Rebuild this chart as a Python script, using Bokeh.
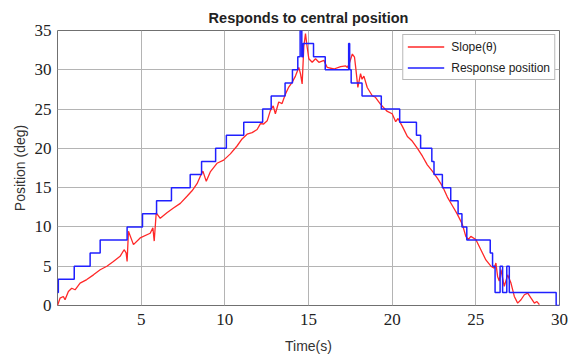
from bokeh.plotting import figure
from bokeh.models import FixedTicker, Legend, LegendItem, Range1d
from bokeh.embed import file_html
from bokeh.resources import INLINE

# ---- data ----
red_t = [0, 0.15, 0.35, 0.45, 0.65, 0.85, 1.05, 1.35, 1.75, 2.15, 2.55, 2.95, 3.34, 3.74,
         3.98, 4.1, 4.16, 4.24, 4.54, 4.94, 5.54, 5.7, 5.78, 5.9, 6.14, 6.54, 6.93, 7.34,
         7.74, 8.04, 8.34, 8.57, 8.69, 8.89, 9.13, 9.53, 9.93, 10.33, 10.73, 11.03, 11.33,
         11.63, 11.93, 12.13, 12.32, 12.53, 12.72, 12.89, 13.02, 13.22, 13.42, 13.62, 13.82,
         14.02, 14.22, 14.42, 14.52, 14.62, 14.72, 14.82, 14.92, 15.02, 15.22, 15.42, 15.62,
         15.92, 16.12, 16.52, 16.92, 17.22, 17.32, 17.42, 17.62, 17.75, 17.82, 17.95, 18.11,
         18.2, 18.31, 18.51, 18.81, 19.0, 19.31, 19.71, 20.0, 20.21, 20.35, 20.61, 20.91,
         21.21, 21.51, 21.81, 22.1, 22.4, 22.7, 23.0, 23.3, 23.6, 23.9, 24.2, 24.4, 24.55,
         24.7, 25.0, 25.3, 25.6, 25.9, 26.1, 26.2, 26.3, 26.4, 26.5, 26.7, 26.9, 27.1, 27.3,
         27.5, 27.7, 27.9, 28.1, 28.3, 28.5, 28.65, 28.8]
red_v = [0, 0.93, 1.15, 0.73, 1.79, 2.2, 2.0, 2.85, 3.3, 3.9, 4.55, 5.0, 5.6, 6.26,
         7.1, 6.7, 5.6, 9.45, 7.75, 8.6, 9.2, 9.9, 8.2, 11.8, 11.1, 11.8, 12.4, 13.0,
         13.9, 14.6, 15.5, 16.6, 17.1, 15.8, 17.0, 18.1, 18.5, 19.3, 20.3, 21.2, 21.8,
         22.0, 22.4, 23.15, 23.1, 23.5, 24.8, 25.4, 24.4, 25.9, 25.7, 26.9, 27.8,
         28.4, 29.2, 30.3, 29.5, 28.2, 32.9, 34.6, 32.9, 31.4, 30.95, 31.4, 30.95,
         31.2, 30.3, 30.1, 30.4, 30.5, 30.3, 30.7, 32.0, 31.6, 30.3, 27.75, 29.5,
         28.8, 29.2, 27.75, 26.7, 26.5, 25.6, 24.7, 24.4, 23.4, 23.8, 22.8, 21.5,
         20.9, 20.0, 19.0, 17.9, 17.1, 16.2, 15.2, 13.8, 12.7, 11.6, 10.3, 8.8, 8.4,
         8.8, 8.4, 7.1, 5.8, 5.0, 4.76, 5.4, 3.7, 3.1, 4.56, 2.43, 3.9, 2.85, 1.15,
         0.3, 0.73, 1.37, 1.57, 0.93, 0.3, 0.5, 0.1]

blue_t = [0, 0.05, 1.0, 1.95, 2.55, 4.16, 5.08, 5.92, 6.81, 7.93, 8.61, 9.45, 10.09, 11.13,
          12.26, 12.77, 13.6, 14.04, 14.36, 14.5, 14.6, 14.68, 15.3, 16.0, 17.4, 17.46,
          17.55, 18.2, 19.35, 20.45, 21.45, 21.7, 22.37, 22.5, 23.0, 23.5, 23.94, 24.17,
          24.46, 25.86, 26.0, 26.15, 26.45, 26.6, 26.85, 27.0, 29.8, 30]
blue_v = [1.67, 3.33, 5, 6.67, 8.33, 10, 11.67, 13.33, 15, 16.67, 18.33, 20, 21.67, 23.33,
          25, 26.67, 28.33, 30, 31.67, 35, 31.67, 33.33, 31.67, 30, 33.33, 30,
          28.33, 26.67, 25, 23.33, 21.67, 20, 18.33, 16.67, 15, 13.33, 11.67, 10,
          8.33, 6.67, 5, 1.67, 5, 1.67, 5, 1.67, 0, 0]

x_ticks = [5, 10, 15, 20, 25, 30]
y_ticks = [0, 5, 10, 15, 20, 25, 30, 35]

title = "Responds to central position"
x_label = "Time(s)"
y_label = "Position (deg)"
series_names = ["Slope(\u03b8)", "Response position"]

# ---- figure ----
p = figure(frame_width=502, frame_height=275, output_backend="svg", toolbar_location=None,
           x_range=Range1d(0, 30), y_range=Range1d(0, 35),
           min_border_left=57, min_border_right=10, min_border_top=30, min_border_bottom=44,
           title=title)
p.background_fill_color = "white"
p.border_fill_color = "white"
p.outline_line_color = "#707070"
p.outline_line_width = 1

p.title.align = "center"
p.title.text_font = "Liberation Sans"
p.title.text_font_size = "14.5px"
p.title.text_font_style = "bold"
p.title.text_color = "#222222"
p.title.standoff = 9

for ax in (p.xaxis[0], p.yaxis[0]):
    ax.major_tick_in = 0
    ax.major_tick_out = 0
    ax.minor_tick_in = 0
    ax.minor_tick_out = 0
    ax.axis_line_color = None
    ax.major_label_text_font = "Liberation Serif"
    ax.major_label_text_font_size = "17px"
    ax.major_label_text_color = "#222222"
    ax.axis_label_text_font = "Liberation Sans"
    ax.axis_label_text_font_size = "14px"
    ax.axis_label_text_font_style = "normal"
    ax.axis_label_text_color = "#333333"

p.xaxis.ticker = FixedTicker(ticks=x_ticks)
p.yaxis.ticker = FixedTicker(ticks=y_ticks)
p.xaxis.axis_label = x_label
p.yaxis.axis_label = y_label
p.xaxis.major_label_standoff = 8
p.yaxis.major_label_standoff = 6
p.xaxis.axis_label_standoff = 10
p.yaxis.axis_label_standoff = 4

p.xgrid.ticker = FixedTicker(ticks=x_ticks)
p.ygrid.ticker = FixedTicker(ticks=y_ticks)
p.grid.grid_line_color = "#b4b4b4"
p.grid.grid_line_width = 1

r_red = p.line(red_t, red_v, line_color="#ff2828", line_width=1.3)
r_blue = p.step(blue_t, blue_v, mode="after", line_color="#2020ff", line_width=1.5)

legend = Legend(items=[LegendItem(label=series_names[0], renderers=[r_red]),
                       LegendItem(label=series_names[1], renderers=[r_blue])],
                location="top_right")
legend.margin = 4
legend.padding = 4
legend.spacing = 6
legend.glyph_width = 37
legend.glyph_height = 15
legend.label_height = 15
legend.label_standoff = 7
legend.label_text_font = "Liberation Sans"
legend.label_text_font_size = "12px"
legend.label_text_color = "#222222"
legend.border_line_color = "#707070"
legend.border_line_width = 1
legend.background_fill_alpha = 1
p.add_layout(legend)

open("out.html", "w").write(file_html(p, INLINE))
